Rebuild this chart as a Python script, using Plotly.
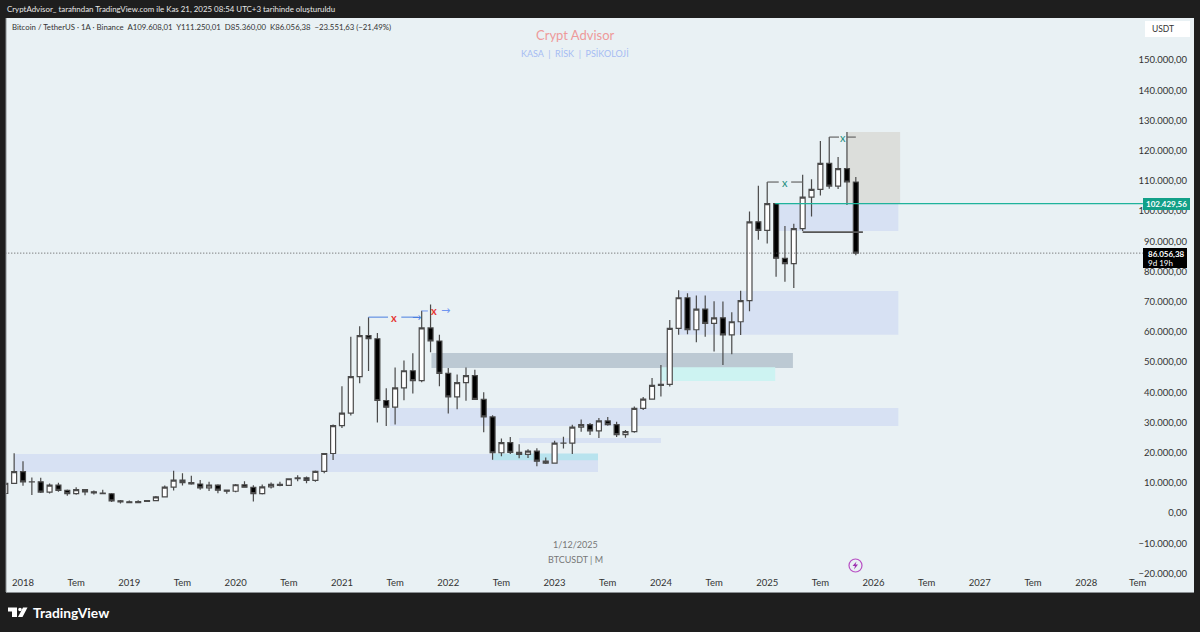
import plotly.graph_objects as go

# month index: 0 = Jan 2018
months = list(range(-2, 95))
opens = [6463,9838,13716,10285,10326,6923,9246,7485,6391,7727,7000,6626,6371,4041,
 3689,3410,3813,4103,5320,8555,10854,10085,9600,8293,9199,7546,
 7195,9352,8523,6410,8620,9448,9139,11335,11649,10776,13791,19700,
 28923,33092,45135,58740,57694,37253,35045,41461,47100,43824,61299,56950,
 46216,38466,43160,45510,37630,31801,19942,23296,20050,19422,20490,17164,
 16542,23125,23141,28465,29233,27210,30472,29232,25940,26963,34639,37723,
 42283,42580,61130,71280,60672,67540,62772,64628,58974,63328,70292,96408,
 93576,102429,84349,82550,94172,104591,107146,115764,108246,114048,109608]
highs = [11300,19798,17176,11786,11704,9759,10020,7786,8491,7750,7410,7680,6586,4312,
 4140,4198,4121,5600,9074,13971,13147,12325,10905,10370,9530,7750,
 9575,10500,9188,9460,10067,10380,11444,12468,12050,14100,19863,29300,
 41950,58352,61844,64854,59592,41330,48168,50500,52920,67000,69000,59053,
 47990,45821,48189,47444,40023,32399,24668,25200,22799,21096,21480,18387,
 23960,25250,29184,31000,29820,31431,31804,30244,27483,35280,38450,44700,
 48969,63913,73777,72797,71979,71997,70079,70000,66498,73620,99800,108353,
 109588,102500,95000,95758,111980,110530,123218,124474,117900,126199,111250]
lows = [5325,9600,9035,6000,6600,6430,7040,5750,6070,5880,6111,6200,3652,3156,
 3349,3373,3729,4067,5273,7444,9110,9320,7710,7300,6515,6410,
 6850,8445,3782,6150,8117,8833,8977,10525,9825,10374,13195,17572,
 28130,32296,43000,47044,30000,28805,29278,37332,39600,43283,53256,42000,
 32917,34322,37155,37578,26700,17622,18781,19520,18125,18190,15476,16256,
 16499,21351,19549,26942,25810,24800,28861,25166,24900,26538,34097,37615,
 38555,41884,59005,59191,56552,58402,53485,49000,52550,58946,66835,90500,
 89256,78258,76606,74508,93377,98200,105100,107350,107270,102000,85360]
closes = [9838,13716,10285,10326,6923,9246,7485,6391,7727,7000,6626,6371,4041,3689,
 3410,3813,4103,5320,8555,10854,10085,9600,8293,9199,7546,7195,
 9352,8523,6410,8620,9448,9139,11335,11649,10776,13791,19700,28923,
 33092,45135,58740,57694,37253,35045,41461,47100,43824,61299,56950,46216,
 38466,43160,45510,37630,31801,19942,23296,20050,19422,20490,17164,16542,
 23125,23141,28465,29233,27210,30472,29232,25940,26963,34639,37723,42283,
 42580,61130,71280,60672,67540,62772,64628,58974,63328,70292,96408,93576,
 102429,84349,82550,94172,104591,107146,115764,108246,114048,109608,86056]

x_tickvals = list(range(0, 121, 6))
x_ticktext = ["2018","Tem","2019","Tem","2020","Tem","2021","Tem","2022","Tem","2023","Tem",
              "2024","Tem","2025","Tem","2026","Tem","2027","Tem","2028"]
last_tick_x = 125.8
last_tick_text = "Tem"
y_tickvals = list(range(-20000, 150001, 10000))
y_ticktext = ["\u221220.000,00","\u221210.000,00","0,00","10.000,00","20.000,00","30.000,00","40.000,00",
              "50.000,00","60.000,00","70.000,00","80.000,00","90.000,00","100.000,00","110.000,00",
              "120.000,00","130.000,00","140.000,00","150.000,00"]

# zones: start month, end month, low, high, colour
zone_x0 = [-1.0, 41.4, 46.1, 72.0, 56.0, 53.0, 74.0, 84.9, 93.0]
zone_x1 = [64.9, 98.8, 86.9, 84.9, 72.0, 64.9, 98.8, 98.8, 99.0]
zone_lo = [13600, 28800, 48000, 43700, 23200, 17500, 59000, 93400, 102400]
zone_hi = [19500, 34800, 53000, 48300, 24800, 19700, 73500, 102400, 126200]
zone_col = ["#d7e1f3","#d7e1f3","#bcc9d3","#cdf3f2","#d7e1f3","#b8e3ee","#d7e1f3","#d7e1f3","#dcdedb"]

# drawn horizontal segments: start month, end month, price, colour, width
seg_x0 = [88, 84, 86.7, 91, 93, 39, 42.7, 45]
seg_x1 = [94.8, 85.3, 88, 92.1, 94, 41.2, 44.6, 45.7]
seg_y = [93000, 109588, 109588, 124474, 124474, 64854, 64854, 66900]
seg_col = ["#555555","#666666","#666666","#666666","#666666","#4a7fe0","#4a7fe0","#6f96f0"]
seg_w = [1.6, 1.2, 1.2, 1.2, 1.2, 1, 1, 1]

arrow_x = [44.4, 47.7]
arrow_y = [64854, 66900]
arrow_col = ["#4a7fe0", "#6f96f0"]

mark_x = [41.9, 46.4, 86.0, 92.5]
mark_y = [64854, 66900, 109588, 124474]
mark_text = ["<b>x</b>", "<b>x</b>", "x", "x"]
mark_col = ["#e53935", "#e53935", "#1f8f7f", "#1f8f7f"]

last_price = 86056.38
level_price = 102429.56

W, H = 1200, 632
L, R, T, B = 6, 1194, 18, 592
def px(x): return (x - L) / (R - L)
def py(y): return 1 - (y - T) / (B - T)

DARK = "#1e1e1e"
PANEL = "#e9f1f4"
FONT = "Lato"

fig = go.Figure()
fig.add_trace(go.Candlestick(
    x=months, open=opens, high=highs, low=lows, close=closes,
    increasing=dict(line=dict(color="#4a4a4a", width=1.2), fillcolor="#ffffff"),
    decreasing=dict(line=dict(color="#4a4a4a", width=1.2), fillcolor="#000000"),
    whiskerwidth=0, showlegend=False, hoverinfo="skip"))

shapes = []
for a, b, lo, hi, c in zip(zone_x0, zone_x1, zone_lo, zone_hi, zone_col):
    shapes.append(dict(type="rect", x0=a, x1=b, y0=lo, y1=hi, fillcolor=c, line_width=0, layer="below"))

AXIS_END = 126.4
shapes.append(dict(type="line", x0=84.9, x1=AXIS_END, y0=level_price, y1=level_price,
                   line=dict(color="#1fb39b", width=1.2)))
shapes.append(dict(type="line", x0=-2, x1=AXIS_END, y0=last_price, y1=last_price,
                   line=dict(color="#555555", width=1, dash="1px,2px")))
for a, b, y, c, w in zip(seg_x0, seg_x1, seg_y, seg_col, seg_w):
    shapes.append(dict(type="line", x0=a, x1=b, y0=y, y1=y, line=dict(color=c, width=w)))

# left edge of the panel
shapes.insert(0, dict(type="line", xref="paper", yref="paper", x0=0, x1=0, y0=0, y1=1,
                      line=dict(color="#8a8f92", width=1)))

def box(x0, x1, y0, y1, fill):
    shapes.append(dict(type="rect", xref="paper", yref="paper", x0=px(x0), x1=px(x1), y0=py(y1), y1=py(y0),
                       fillcolor=fill, line_width=0))
box(1145, 1190, 21, 37, "#ffffff")
box(1143, 1190, 198, 210, "#12a088")
box(1143, 1187, 248, 268, "#000000")

# TradingView logo mark
def poly(points, fill):
    d = "M " + " L ".join(f"{px(x)} {py(y)}" for x, y in points) + " Z"
    shapes.append(dict(type="path", xref="paper", yref="paper", path=d, fillcolor=fill, line_width=0))
poly([(8,607.5),(17,607.5),(17,617),(12,617),(12,611.5),(8,611.5)], "#ffffff")
poly([(23,607.5),(27.5,607.5),(22.5,617),(18,617)], "#ffffff")
shapes.append(dict(type="circle", xref="paper", yref="paper", x0=px(18.2), x1=px(21.8), y0=py(611.3), y1=py(607.7),
                   fillcolor="#ffffff", line_width=0))
# lightning icon
shapes.append(dict(type="circle", xref="paper", yref="paper", x0=px(849), x1=px(862), y0=py(572), y1=py(559),
                   fillcolor="rgba(0,0,0,0)", line=dict(color="#b84fc4", width=1.2)))
poly([(856.5,561.5),(852.5,566),(855,566),(854,569.5),(858,564.5),(855.5,564.5)], "#9c2fb0")

def text(x, y, s, size, color, xanchor="left", **kw):
    return dict(xref="paper", yref="paper", x=px(x), y=py(y), text=s, showarrow=False,
                font=dict(family=kw.pop("family", FONT), size=size, color=color),
                xanchor=xanchor, yanchor="middle", **kw)

annotations = [
    text(5, 9, "CryptAdvisor_ tarafından TradingView.com ile Kas 21, 2025 08:54 UTC+3 tarihinde oluşturuldu", 7.9, "#e8e8e8"),
    text(10, 27, "Bitcoin / TetherUS · 1A · Binance&nbsp;&nbsp;A109.608,01&nbsp;&nbsp;Y111.250,01&nbsp;&nbsp;D85.360,00&nbsp;&nbsp;K86.056,38&nbsp;&nbsp;\u221223.551,63 (\u221221,49%)", 7.8, "#333333"),
    text(575, 35, "Crypt Advisor", 13, "#ee9a9a", "center"),
    text(575, 53, "KASA&nbsp;&nbsp;|&nbsp;&nbsp;RİSK&nbsp;&nbsp;|&nbsp;&nbsp;PSİKOLOJİ", 9, "#a6bcf3", "center"),
    text(575, 544, "1/12/2025", 9, "#777777", "center"),
    text(575, 559, "BTCUSDT | M", 9, "#777777", "center"),
    text(31, 612, "<b>TradingView</b>", 13.8, "#ffffff"),
    text(1150, 29, "USDT", 8.5, "#333333"),
    text(1166.5, 204, "<b>102.429,56</b>", 8, "#ffffff", "center"),
    text(1146, 253.5, "<b>86.056,38</b>", 8, "#ffffff"),
    text(1146, 263, "9d 19h", 8, "#ffffff"),
    dict(x=last_tick_x, xref="x", y=py(582), yref="paper", text=last_tick_text, showarrow=False,
         font=dict(family=FONT, size=9.5, color="#333333"), yanchor="middle"),
]
for mx, my, ms, mc in zip(mark_x, mark_y, mark_text, mark_col):
    annotations.append(dict(x=mx, y=my, xref="x", yref="y", text=ms, showarrow=False,
                            font=dict(family=FONT, size=11, color=mc)))
for ax_, ay_, ac in zip(arrow_x, arrow_y, arrow_col):
    annotations.append(dict(x=ax_, y=ay_, xref="x", yref="y", text="\u2192", showarrow=False,
                            font=dict(family="DejaVu Sans", size=11, color=ac)))

fig.update_layout(
    width=W, height=H, autosize=False,
    margin=dict(l=L, r=W - R, t=T, b=H - B, pad=0),
    paper_bgcolor=DARK, plot_bgcolor=PANEL,
    boxgap=0.2, showlegend=False,
    font=dict(family=FONT, size=9, color="#333333"),
    shapes=shapes, annotations=annotations,
    xaxis=dict(range=[-1.919, 132.17], tickmode="array", tickvals=x_tickvals, ticktext=x_ticktext,
               ticklabelposition="inside", ticklabelstandoff=3, showgrid=False, zeroline=False, showline=True,
               linecolor="#8a8f92", linewidth=1, ticks="", rangeslider=dict(visible=False),
               tickfont=dict(family=FONT, size=9.5, color="#333333")),
    yaxis=dict(range=[-26159, 163907], side="right", tickmode="array", tickvals=y_tickvals, ticktext=y_ticktext,
               ticklabelposition="inside", ticklabelstandoff=4, showgrid=False, zeroline=False, showline=False, ticks="",
               tickfont=dict(family=FONT, size=9.5, color="#333333")),
)
fig.write_html("out.html", config=dict(displayModeBar=False),
               post_script="document.body.style.margin='0';document.body.style.background='#1e1e1e';")
